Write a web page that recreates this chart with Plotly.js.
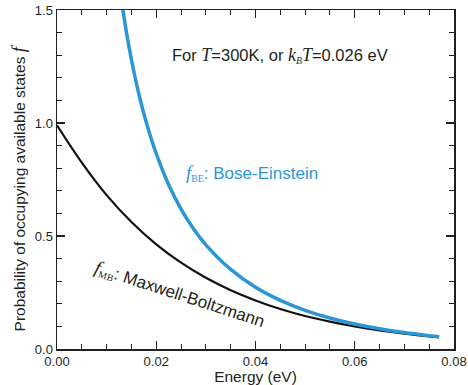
<!DOCTYPE html>
<html><head><meta charset="utf-8">
<script src="https://cdn.plot.ly/plotly-3.0.1.min.js"></script>
<style>body{margin:0;background:#fff}#c{width:468px;height:385px}</style>
</head><body><div id="c"></div>
<script>
const energyMB = [0, 0.005, 0.010, 0.015, 0.020, 0.025, 0.030, 0.035, 0.040, 0.045, 0.050, 0.055, 0.060, 0.065, 0.070, 0.075, 0.077];
const fMB = [0.99, 0.825, 0.681, 0.562, 0.463, 0.382, 0.315, 0.260, 0.215, 0.177, 0.146, 0.121, 0.0995, 0.0821, 0.0677, 0.0559, 0.0517];
const energyBE = [0.013, 0.0135, 0.014, 0.015, 0.0165, 0.018, 0.020, 0.0225, 0.025, 0.0275, 0.030, 0.035, 0.040, 0.045, 0.050, 0.055, 0.060, 0.065, 0.070, 0.075, 0.077];
const fBE = [1.54, 1.47, 1.40, 1.28, 1.128, 1.002, 0.864, 0.727, 0.619, 0.532, 0.461, 0.352, 0.273, 0.215, 0.171, 0.137, 0.1105, 0.0894, 0.0726, 0.0592, 0.0546];
const xTicks = [0, 0.02, 0.04, 0.06, 0.08];
const xTickLabels = ['0.00', '0.02', '0.04', '0.06', '0.08'];
const yTicks = [0, 0.5, 1.0, 1.5];
const yTickLabels = ['0.0', '0.5', '1.0', '1.5'];

const ink = '#231f20';
const blue = '#2b96d5';
const serifI = "font-family:'Liberation Serif',serif;font-style:italic";
const serif = "font-family:'Liberation Serif',serif";

const traces = [
  {x: energyMB, y: fMB, mode: 'lines', line: {color: '#111', width: 2.2, shape: 'spline'}, hoverinfo: 'none'},
  {x: energyBE, y: fBE, mode: 'lines', line: {color: blue, width: 3.5, shape: 'spline'}, hoverinfo: 'none'}
];

const axisCommon = {
  showgrid: false, zeroline: false, showline: true, linecolor: ink, linewidth: 1.5,
  mirror: 'ticks', ticks: 'inside', ticklen: 8, tickwidth: 1.2, tickcolor: ink,
  tickfont: {family: 'Liberation Sans, Arial, sans-serif', size: 13, color: ink}
};

const layout = {
  width: 468, height: 385,
  margin: {l: 57, r: 14, t: 9.5, b: 36},
  paper_bgcolor: '#fff', plot_bgcolor: '#fff',
  showlegend: false,
  font: {family: 'Liberation Sans, Arial, sans-serif', color: ink},
  xaxis: Object.assign({}, axisCommon, {
    range: [0, 0.08], tickvals: xTicks, ticktext: xTickLabels,
    minor: {dtick: 0.005, ticklen: 5, tickwidth: 1, tickcolor: ink, ticks: 'inside'},
    title: {text: 'Energy (eV)', font: {size: 15.5, color: ink}, standoff: 2}
  }),
  yaxis: Object.assign({}, axisCommon, {
    range: [0, 1.5], tickvals: yTicks, ticktext: yTickLabels,
    minor: {dtick: 0.1, ticklen: 5, tickwidth: 1, tickcolor: ink, ticks: 'inside'}
  }),
  annotations: [
    {xref: 'paper', yref: 'paper', x: -0.098, y: 0.474, textangle: -90, showarrow: false,
     xanchor: 'center', yanchor: 'middle',
     text: "Probability of occupying available states <span style=\"" + serifI + ";font-size:19px\">f</span>",
     font: {size: 15.5, color: ink}},
    {xref: 'paper', yref: 'paper', x: (280 - 57) / 397, y: (349 - 55) / 339.5, showarrow: false,
     xanchor: 'center', yanchor: 'middle',
     text: "For <span style=\"" + serifI + ";font-size:18px\">T</span>=300K, or <span style=\"" + serifI + ";font-size:18px\">k</span><span style=\"" + serifI + ";font-size:14px\"><sub>B</sub></span><span style=\"" + serifI + ";font-size:18px\">T</span>=0.026 eV",
     font: {size: 16.5, color: ink}},
    {xref: 'paper', yref: 'paper', x: (252 - 57) / 397, y: (349 - 173) / 339.5, showarrow: false,
     xanchor: 'center', yanchor: 'middle',
     text: "<span style=\"" + serifI + ";font-size:19px\">f</span><span style=\"" + serif + ";font-size:14px\"><sub>BE</sub></span>: Bose-Einstein",
     font: {size: 17, color: blue}},
    {xref: 'paper', yref: 'paper', x: (179 - 57) / 397, y: (349 - 294) / 339.5, showarrow: false,
     xanchor: 'center', yanchor: 'middle', textangle: 18,
     text: "<span style=\"" + serifI + ";font-size:19px\">f</span><span style=\"" + serif + ";font-size:14px\"><sub>MB</sub></span>: Maxwell-Boltzmann",
     font: {size: 17, color: ink}}
  ]
};

Plotly.newPlot('c', traces, layout, {staticPlot: true, displayModeBar: false});
</script>
</body></html>
